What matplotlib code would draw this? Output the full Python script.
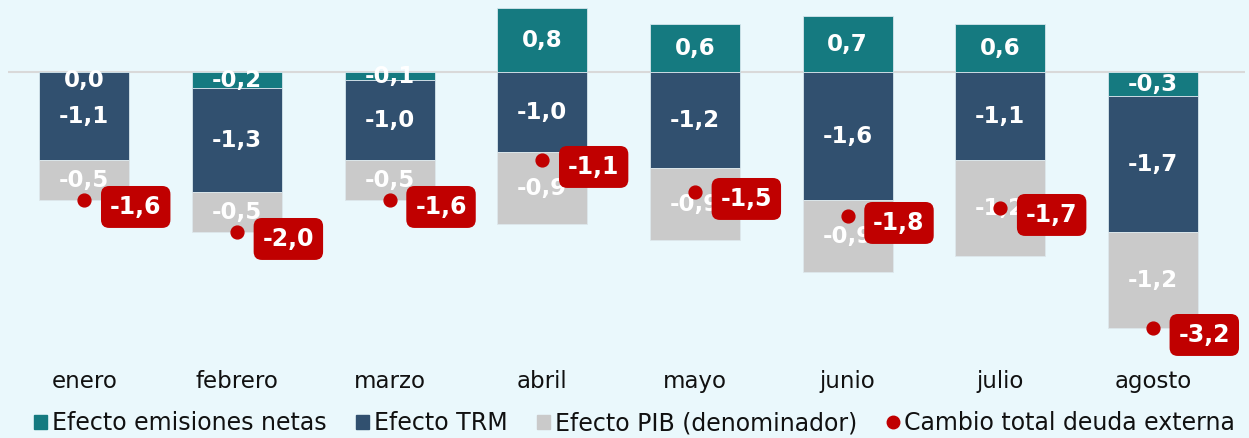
import matplotlib.pyplot as plt
import numpy as np
from matplotlib.patches import Patch
from matplotlib.lines import Line2D

plt.rcParams['font.family'] = ['DejaVu Sans']

meses = ['enero', 'febrero', 'marzo', 'abril', 'mayo', 'junio', 'julio', 'agosto']
emisiones = [0.0, -0.2, -0.1, 0.8, 0.6, 0.7, 0.6, -0.3]
trm = [-1.1, -1.3, -1.0, -1.0, -1.2, -1.6, -1.1, -1.7]
pib = [-0.5, -0.5, -0.5, -0.9, -0.9, -0.9, -1.2, -1.2]
total = [-1.6, -2.0, -1.6, -1.1, -1.5, -1.8, -1.7, -3.2]

c_emis = '#157A80'
c_trm = '#31506F'
c_pib = '#CACACA'
c_tot = '#C00000'
bg = '#EAF8FC'

def fmt(v):
    return ('%.1f' % v).replace('.', ',')

x = np.arange(len(meses))
emis = np.array(emisiones)
trm_a = np.array(trm)
pib_a = np.array(pib)

fig = plt.figure(figsize=(12.49, 4.38), dpi=100, facecolor=bg)
ax = fig.add_axes([0.0064, 0.178, 0.99, 0.822])
ax.set_facecolor(bg)

w = 0.59
base_trm = np.minimum(emis, 0)
base_pib = base_trm + trm_a

ax.bar(x, emis, w, color=c_emis, zorder=2, ec='#D6E6EC', lw=0.6)
ax.bar(x, trm_a, w, bottom=base_trm, color=c_trm, zorder=2, ec='#D6E6EC', lw=0.6)
ax.bar(x, pib_a, w, bottom=base_pib, color=c_pib, zorder=2, ec='#DDE8EC', lw=0.6)

ax.axhline(0, color='#D9D9D9', lw=1.5, zorder=1)

# segment labels
lab = dict(color='white', fontsize=16.5, fontweight='bold', ha='center',
           va='center', zorder=4)
for i in x:
    ye = emis[i] / 2
    if abs(emis[i]) < 0.05:
        ye = -0.1
    ax.text(i, ye, fmt(emis[i]), **lab)
    ax.text(i, base_trm[i] + trm_a[i] / 2, fmt(trm_a[i]), **lab)
    ax.text(i, base_pib[i] + pib_a[i] / 2, fmt(pib_a[i]), **lab)

# total dots and labels
ax.scatter(x, total, s=85, color=c_tot, zorder=5)
for i in x:
    ax.annotate(fmt(total[i]), (i, total[i]), xytext=(37, -5),
                textcoords='offset points', ha='center', va='center',
                color='white', fontsize=17, fontweight='bold', zorder=6,
                bbox=dict(boxstyle='round,pad=0.38,rounding_size=0.35',
                          fc=c_tot, ec='none'))

ax.set_xlim(-0.5, 7.6)
ax.set_ylim(-3.6, 0.9)
ax.set_yticks([])
ax.set_xticks(x)
ax.set_xticklabels(meses, fontsize=16.5, color='#111111')
ax.tick_params(axis='x', length=0, pad=7)
for s in ax.spines.values():
    s.set_visible(False)

handles = [
    Patch(color=c_emis, label='Efecto emisiones netas'),
    Patch(color=c_trm, label='Efecto TRM'),
    Patch(color=c_pib, label='Efecto PIB (denominador)'),
    Line2D([], [], ls='none', marker='o', ms=9, color=c_tot,
           label='Cambio total deuda externa'),
]
leg = fig.legend(handles=handles, loc='center', bbox_to_anchor=(0.508, 0.034),
                 ncol=4, frameon=False, fontsize=17, handlelength=0.55,
                 handleheight=0.55, handletextpad=0.2, columnspacing=1.25)
for t in leg.get_texts():
    t.set_color('#111111')

fig.savefig('out.png', dpi=100, facecolor=bg)
